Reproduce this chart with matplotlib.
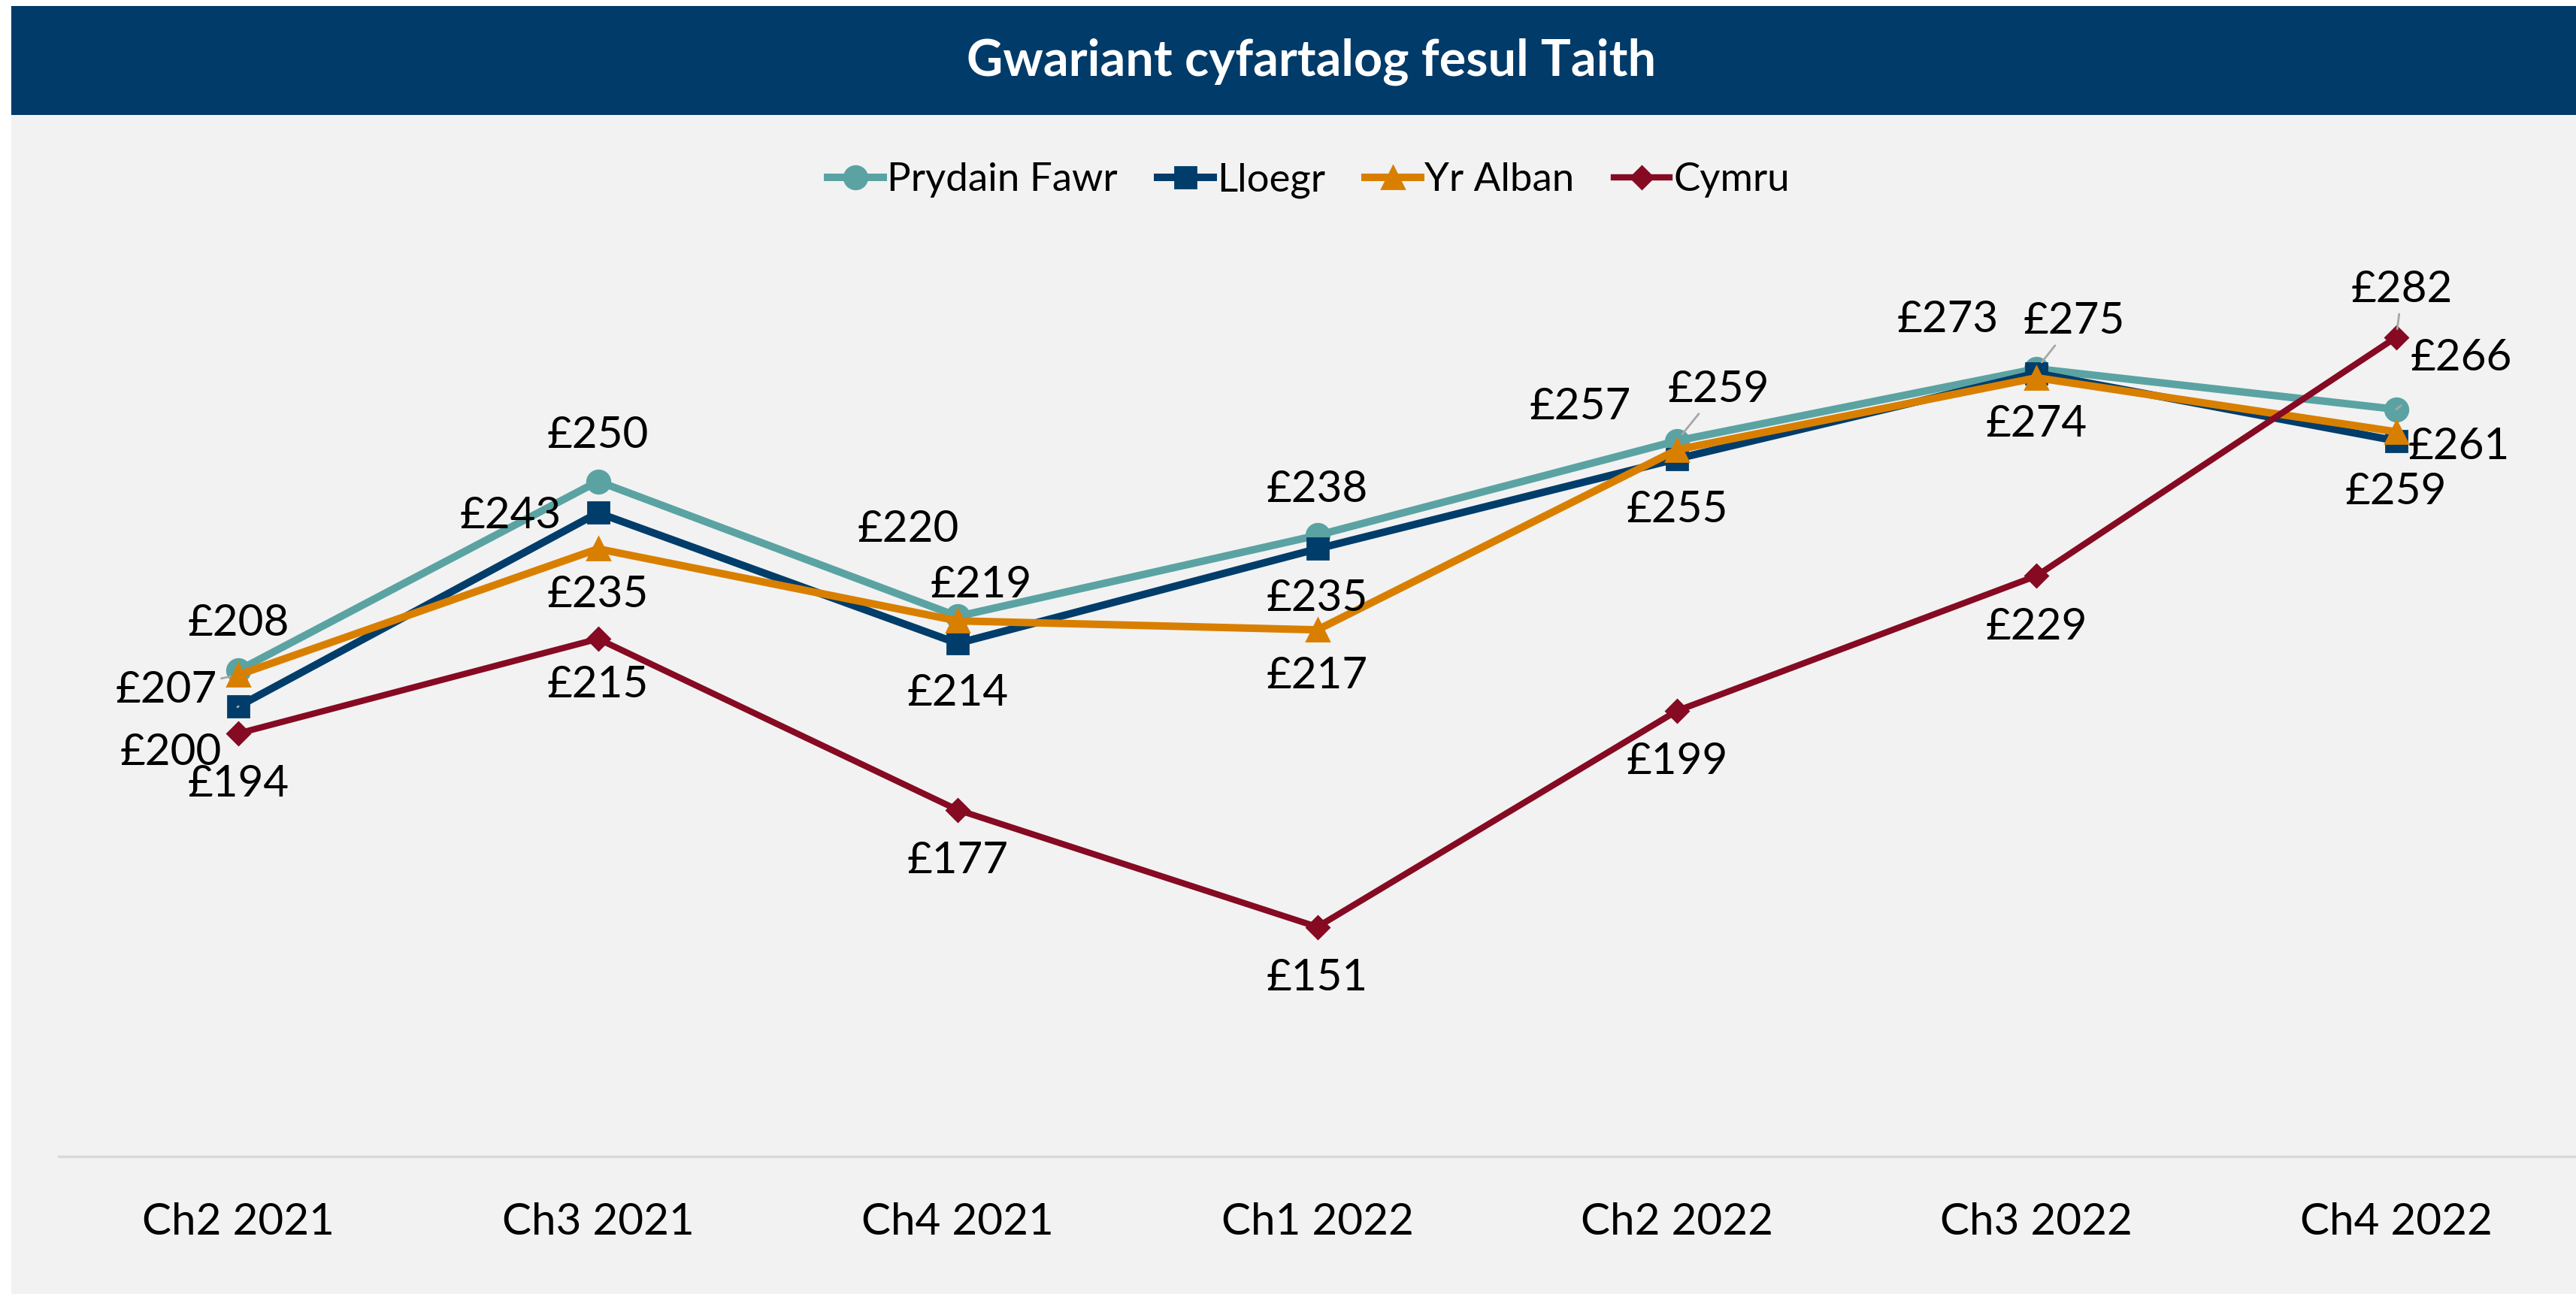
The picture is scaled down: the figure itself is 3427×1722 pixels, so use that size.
import matplotlib.pyplot as plt
from matplotlib.patches import Rectangle

plt.rcParams['font.family'] = ['Lato', 'DejaVu Sans']

quarters = ['Ch2 2021', 'Ch3 2021', 'Ch4 2021', 'Ch1 2022', 'Ch2 2022', 'Ch3 2022', 'Ch4 2022']
prydain_fawr = [208, 250, 220, 238, 259, 275, 266]
lloegr = [200, 243, 214, 235, 255, 274, 259]
yr_alban = [207, 235, 219, 217, 257, 273, 261]
cymru = [194, 215, 177, 151, 199, 229, 282]

# label offsets in pixels (dx, dy), and whether a leader line is drawn
off_pf = [(0, 63), (0, 61), (-66, 116), (0, 61), (55, 68), (50, 63), (87, 68)]
off_ll = [(-90, -61), (-116, -4), (0, -66), (0, -66), (0, -68), (0, -68), (0, -68)]
off_ya = [(-96, -20), (0, -61), (31, 48), (0, -61), (-129, 57), (-118, 77), (83, -20)]
off_cy = [(0, -68), (0, -61), (0, -68), (0, -68), (0, -68), (0, -68), (8, 63)]
lead_pf = [False, False, False, False, True, True, True]
lead_ll = [True, False, False, False, False, False, False]
lead_ya = [True, False, False, False, False, False, False]
lead_cy = [False, False, False, False, False, False, True]

fig = plt.figure(figsize=(17.135, 8.61), dpi=200, facecolor='white')
fig.patches.append(Rectangle((15 / 3427, 0), 1, 1 - 8 / 1722, transform=fig.transFigure,
                             facecolor='#F2F2F2', edgecolor='none', zorder=-2))
fig.patches.append(Rectangle((15 / 3427, 1 - 153 / 1722), 1, 145 / 1722, transform=fig.transFigure,
                             facecolor='#003B69', edgecolor='none', zorder=-1))
fig.text(0.509, 1 - 82 / 1722, 'Gwariant cyfartalog fesul Taith', color='white',
         fontsize=24, fontweight='bold', ha='center', va='center')

ax = fig.add_axes([78 / 3427, 183 / 1722, 1 - 78 / 3427, 0.6957])
ax.patch.set_visible(False)

x = list(range(len(quarters)))
series = [
    ('Prydain Fawr', prydain_fawr, '#5BA3A3', 'o', 11, 3.6, off_pf, lead_pf),
    ('Lloegr', lloegr, '#003D6B', 's', 10, 3.6, off_ll, lead_ll),
    ('Yr Alban', yr_alban, '#D97F00', '^', 11, 3.6, off_ya, lead_ya),
    ('Cymru', cymru, '#850A22', 'D', 7.5, 3.0, off_cy, lead_cy),
]
for name, vals, col, mk, ms, lw, offs, leads in series:
    ax.plot(x, vals, color=col, marker=mk, markersize=ms, linewidth=lw, label=name)
    for xi, v, (dx, dy), ld in zip(x, vals, offs, leads):
        ap = None
        if ld:
            ap = dict(arrowstyle='-', color='#A6A6A6', lw=1, shrinkA=18, shrinkB=4)
        ax.annotate(f'£{v}', (xi, v), xytext=(dx, dy), textcoords='offset pixels',
                    ha='center', va='center', fontsize=21, color='black', arrowprops=ap)

ax.set_xlim(-0.5, len(quarters) - 0.5)
ax.set_ylim(100, 300)
ax.set_xticks(x)
ax.set_xticklabels(quarters, fontsize=21)
ax.tick_params(axis='x', length=0, pad=22)
ax.set_yticks([])
for s in ['top', 'right', 'left']:
    ax.spines[s].set_visible(False)
ax.spines['bottom'].set_color('#D9D9D9')
ax.spines['bottom'].set_linewidth(1.2)

fig.legend(loc='center', bbox_to_anchor=(0.508, 1 - 240 / 1722), ncol=4, frameon=False,
           fontsize=19, handlelength=1.4, handletextpad=0.1, columnspacing=1.0)

fig.savefig('out.png', dpi=200)
